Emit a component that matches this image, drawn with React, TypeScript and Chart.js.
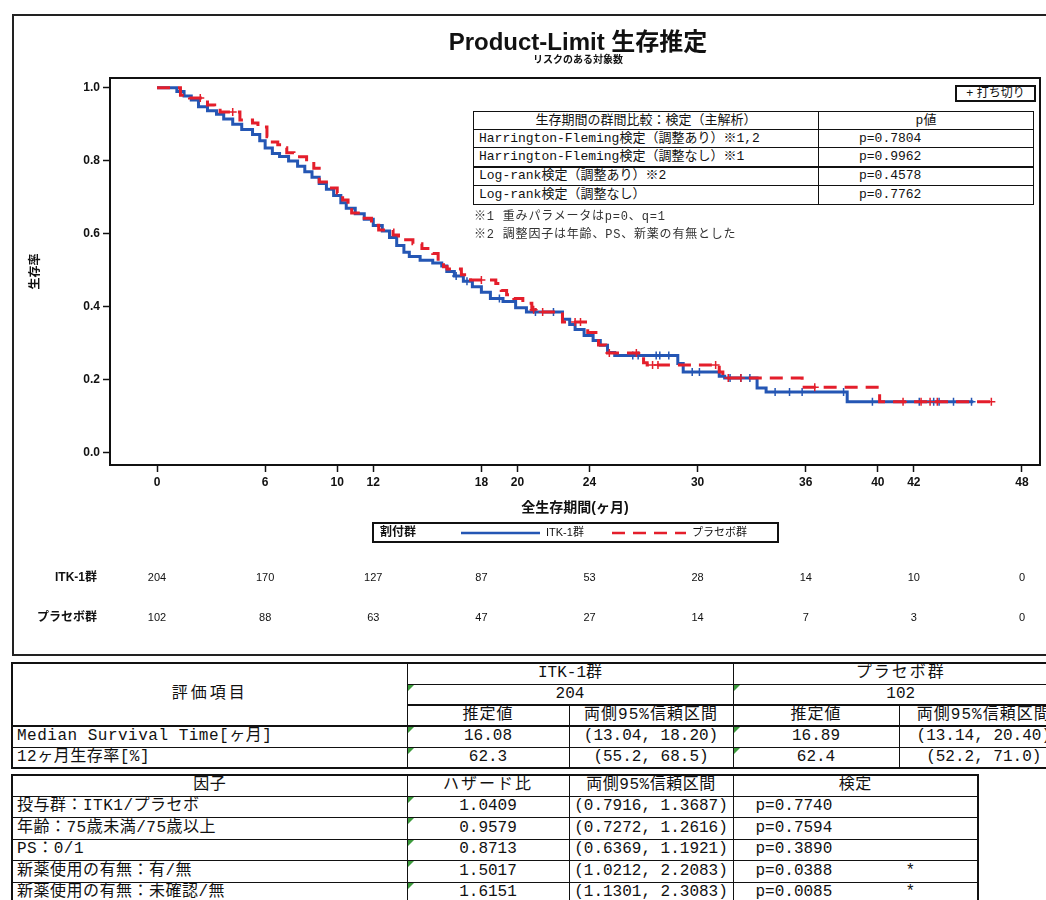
import React, { useEffect, useRef } from "react";
import { Chart, registerables } from "chart.js";

Chart.register(...registerables);

// ---------- text ----------
const TITLE = "Product-Limit 生存推定";
const SUBTITLE = "リスクのある対象数";
const Y_TITLE = "生存率";
const X_TITLE = "全生存期間(ヶ月)";
const LEGEND_TITLE = "割付群";
const GROUPS = ["ITK-1群", "プラセボ群"];
const CENSOR_KEY = "+ 打ち切り";

// ---------- axes ----------
const X_MIN = -2.61;
const X_MAX = 49.0;
const Y_MIN = -0.033;
const Y_MAX = 1.027;
const X_TICKS = [0, 6, 10, 12, 18, 20, 24, 30, 36, 40, 42, 48];
const Y_TICKS = [0, 0.2, 0.4, 0.6, 0.8, 1.0];

// ---------- Kaplan-Meier data (time in months, survival after each step) ----------
const ITK_TIMES = [0, 1.1, 1.5, 1.9, 2.3, 2.8, 3.3, 3.7, 4.2, 4.7, 5.3, 5.7, 6.0, 6.4, 6.8, 7.3, 7.8, 8.2, 8.6, 9.0, 9.4, 9.8, 10.2, 10.5, 11.0, 11.5, 12.0, 12.5, 12.9, 13.3, 13.7, 14.0, 14.6, 15.3, 15.8, 16.08, 16.5, 17.0, 17.5, 18.0, 18.5, 19.2, 19.9, 20.5, 22.5, 22.9, 23.2, 23.7, 24.2, 24.6, 25.0, 25.4, 28.9, 29.2, 31.2, 31.5, 33.3, 33.8, 38.3];
const ITK_SURV = [1.0, 0.99, 0.978, 0.967, 0.948, 0.937, 0.928, 0.915, 0.9, 0.886, 0.872, 0.855, 0.835, 0.82, 0.812, 0.8, 0.785, 0.77, 0.755, 0.738, 0.722, 0.705, 0.685, 0.67, 0.655, 0.64, 0.623, 0.608, 0.59, 0.568, 0.55, 0.538, 0.528, 0.52, 0.512, 0.497, 0.485, 0.47, 0.455, 0.44, 0.423, 0.415, 0.398, 0.386, 0.366, 0.352, 0.338, 0.322, 0.308, 0.295, 0.275, 0.267, 0.245, 0.222, 0.21, 0.205, 0.178, 0.167, 0.14];
const ITK_END = 45.3;
const ITK_CENSOR = [16.6, 17.2, 19.0, 21.0, 22.0, 26.4, 26.7, 27.7, 27.9, 28.4, 29.7, 30.1, 31.8, 32.4, 32.9, 34.3, 35.1, 35.8, 38.1, 39.7, 42.3, 43.1, 43.4, 44.2, 45.2];

const PBO_TIMES = [0, 1.3, 1.8, 2.8, 3.2, 3.5, 4.6, 5.3, 5.6, 6.1, 6.4, 6.7, 7.0, 7.2, 7.6, 8.3, 8.7, 9.0, 9.4, 10.0, 10.3, 10.6, 10.8, 11.3, 11.9, 12.3, 13.1, 13.4, 14.2, 14.7, 15.3, 15.6, 15.9, 16.1, 16.89, 17.4, 18.8, 19.1, 19.4, 19.8, 20.3, 20.8, 21.0, 22.5, 23.9, 24.5, 24.9, 27.0, 27.2, 31.2, 31.4, 35.8, 40.1];
const PBO_SURV = [1.0, 0.98, 0.972, 0.953, 0.947, 0.934, 0.912, 0.904, 0.893, 0.866, 0.852, 0.844, 0.836, 0.822, 0.811, 0.797, 0.78, 0.742, 0.726, 0.712, 0.693, 0.676, 0.657, 0.643, 0.624, 0.611, 0.597, 0.584, 0.573, 0.56, 0.546, 0.525, 0.51, 0.504, 0.488, 0.474, 0.464, 0.445, 0.433, 0.423, 0.41, 0.392, 0.386, 0.359, 0.33, 0.296, 0.274, 0.247, 0.241, 0.222, 0.205, 0.18, 0.14];
const PBO_END = 46.4;
const PBO_CENSOR = [2.4, 4.2, 18.0, 20.9, 21.4, 23.2, 23.5, 25.1, 26.6, 27.5, 27.8, 31.0, 31.7, 32.4, 36.5, 41.4, 42.4, 42.9, 43.3, 46.3];

// ---------- numbers at risk ----------
const RISK_TIMES = [0, 6, 12, 18, 24, 30, 36, 42, 48];
const RISK_ITK = [204, 170, 127, 87, 53, 28, 14, 10, 0];
const RISK_PBO = [102, 88, 63, 47, 27, 14, 7, 3, 0];

// ---------- in-plot test table ----------
const TEST_HEAD = ["生存期間の群間比較：検定（主解析）", "p値"];
const TEST_NAMES = ["Harrington-Fleming検定（調整あり）※1,2", "Harrington-Fleming検定（調整なし）※1", "Log-rank検定（調整あり）※2", "Log-rank検定（調整なし）"];
const TEST_P = ["p=0.7804", "p=0.9962", "p=0.4578", "p=0.7762"];
const NOTES = ["※1 重みパラメータはp=0、q=1", "※2 調整因子は年齢、PS、新薬の有無とした"];

// ---------- lower tables ----------
const SUMMARY_HEAD = "評価項目";
const GROUP_N = ["204", "102"];
const SUB_HEAD = ["推定値", "両側95%信頼区間"];
const SUMMARY_ROWS = [
  ["Median Survival Time[ヶ月]", "16.08", "(13.04, 18.20)", "16.89", "(13.14, 20.40)"],
  ["12ヶ月生存率[%]", "62.3", "(55.2, 68.5)", "62.4", "(52.2, 71.0)"],
];
const HR_HEAD = ["因子", "ハザード比", "両側95%信頼区間", "検定"];
const HR_ROWS = [
  ["投与群：ITK1/プラセボ", "1.0409", "(0.7916, 1.3687)", "p=0.7740", ""],
  ["年齢：75歳未満/75歳以上", "0.9579", "(0.7272, 1.2616)", "p=0.7594", ""],
  ["PS：0/1", "0.8713", "(0.6369, 1.1921)", "p=0.3890", ""],
  ["新薬使用の有無：有/無", "1.5017", "(1.0212, 2.2083)", "p=0.0388", "*"],
  ["新薬使用の有無：未確認/無", "1.6151", "(1.1301, 2.3083)", "p=0.0085", "*"],
];

// ---------- styles ----------
const ITK_COLOR = "#2456b4";
const PBO_COLOR = "#e41e2b";
const FONT = '"Liberation Sans", "Noto Sans CJK JP", sans-serif';
const TFONT = '"Liberation Mono", "Noto Sans CJK JP", monospace';
const INK = "#111";

function survAt(times: number[], surv: number[], t: number) {
  let s = surv[0];
  for (let i = 0; i < times.length; i++) if (times[i] <= t) s = surv[i];
  return s;
}
function stepPoints(times: number[], surv: number[], end: number) {
  const pts = times.map((t, i) => ({ x: t, y: surv[i] }));
  pts.push({ x: end, y: surv[surv.length - 1] });
  return pts;
}
function censorPoints(times: number[], surv: number[], cens: number[]) {
  return cens.map((t) => ({ x: t, y: survAt(times, surv, t) }));
}

const decorPlugin = {
  id: "kmDecor",
  afterDraw(chart: any) {
    const { ctx, chartArea } = chart;
    const xs = chart.scales.x;
    const cx = (chartArea.left + chartArea.right) / 2;
    ctx.save();
    // plot frame
    ctx.strokeStyle = INK;
    ctx.lineWidth = 2;
    ctx.setLineDash([]);
    ctx.strokeRect(chartArea.left, chartArea.top, chartArea.right - chartArea.left, chartArea.bottom - chartArea.top);
    // titles
    ctx.fillStyle = INK;
    ctx.textAlign = "center";
    ctx.textBaseline = "middle";
    ctx.font = `bold 24px ${FONT}`;
    ctx.fillText(TITLE, cx + 3, 29);
    ctx.font = `bold 10px ${FONT}`;
    ctx.fillText(SUBTITLE, cx + 3, 46);
    // legend
    const lw = 405, lh = 19;
    const lx = cx - 202, ly = 509;
    const my = ly + lh / 2 + 0.5;
    ctx.lineWidth = 2;
    ctx.strokeStyle = INK;
    ctx.strokeRect(lx, ly, lw, lh);
    ctx.textAlign = "left";
    ctx.font = `bold 12px ${FONT}`;
    ctx.fillText(LEGEND_TITLE, lx + 7, my);
    ctx.lineWidth = 2.5;
    ctx.strokeStyle = ITK_COLOR;
    ctx.beginPath();
    ctx.moveTo(lx + 88, my);
    ctx.lineTo(lx + 167, my);
    ctx.stroke();
    ctx.font = `11px ${FONT}`;
    ctx.fillText(GROUPS[0], lx + 173, my);
    ctx.strokeStyle = PBO_COLOR;
    ctx.setLineDash([13, 8]);
    ctx.beginPath();
    ctx.moveTo(lx + 239, my);
    ctx.lineTo(lx + 313, my);
    ctx.stroke();
    ctx.setLineDash([]);
    ctx.fillText(GROUPS[1], lx + 319, my);
    // numbers at risk
    const r1 = 564, r2 = 604;
    ctx.textAlign = "right";
    ctx.font = `bold 12px ${FONT}`;
    ctx.fillText(GROUPS[0], 85, r1);
    ctx.fillText(GROUPS[1], 85, r2);
    ctx.textAlign = "center";
    ctx.font = `11px ${FONT}`;
    RISK_TIMES.forEach((t, i) => {
      const x = xs.getPixelForValue(t);
      ctx.fillText(String(RISK_ITK[i]), x, r1);
      ctx.fillText(String(RISK_PBO[i]), x, r2);
    });
    ctx.restore();
  },
};

const cell: React.CSSProperties = {
  border: "1px solid #111",
  padding: "0 4px",
  lineHeight: "19px",
  whiteSpace: "nowrap",
  overflow: "hidden",
  position: "relative",
  verticalAlign: "middle",
};

function Tri() {
  return (
    <span
      style={{
        position: "absolute",
        left: 0,
        top: 0,
        width: 0,
        height: 0,
        borderTop: "6px solid #3d9b3d",
        borderRight: "6px solid transparent",
      }}
    />
  );
}

export default function App() {
  const canvasRef = useRef<HTMLCanvasElement>(null);

  useEffect(() => {
    const chart = new Chart(canvasRef.current as HTMLCanvasElement, {
      type: "line",
      data: {
        datasets: [
          {
            label: GROUPS[1],
            data: stepPoints(PBO_TIMES, PBO_SURV, PBO_END),
            borderColor: PBO_COLOR,
            borderWidth: 3,
            borderDash: [13, 8],
            stepped: "before",
            pointRadius: 0,
            fill: false,
          },
          {
            label: GROUPS[1] + " censored",
            data: censorPoints(PBO_TIMES, PBO_SURV, PBO_CENSOR),
            showLine: false,
            pointStyle: "cross",
            pointRadius: 4,
            pointBorderWidth: 1.5,
            pointBorderColor: PBO_COLOR,
            borderColor: PBO_COLOR,
          },
          {
            label: GROUPS[0],
            data: stepPoints(ITK_TIMES, ITK_SURV, ITK_END),
            borderColor: ITK_COLOR,
            borderWidth: 3,
            stepped: "before",
            pointRadius: 0,
            fill: false,
          },
          {
            label: GROUPS[0] + " censored",
            data: censorPoints(ITK_TIMES, ITK_SURV, ITK_CENSOR),
            showLine: false,
            pointStyle: "cross",
            pointRadius: 4,
            pointBorderWidth: 1.5,
            pointBorderColor: ITK_COLOR,
            borderColor: ITK_COLOR,
          },
        ] as any,
      },
      options: {
        responsive: false,
        animation: false,
        devicePixelRatio: 1,
        events: [],
        layout: { padding: { top: 64, left: 0, right: 6, bottom: 130 } },
        plugins: {
          legend: { display: false },
          tooltip: { enabled: false },
          title: { display: false },
        },
        scales: {
          x: {
            type: "linear",
            min: X_MIN,
            max: X_MAX,
            afterBuildTicks: (s: any) => {
              s.ticks = X_TICKS.map((v) => ({ value: v }));
            },
            afterFit: (s: any) => {
              s.height = 60;
            },
            ticks: {
              autoSkip: false,
              maxRotation: 0,
              padding: 3,
              color: INK,
              font: { family: FONT, size: 12, weight: "bold" },
              callback: (v: any) => String(v),
            },
            grid: { drawOnChartArea: false, drawTicks: true, tickLength: 7, tickWidth: 1.5, tickColor: INK },
            border: { display: false },
            title: {
              display: true,
              text: X_TITLE,
              color: INK,
              font: { family: FONT, size: 14, weight: "bold" },
              padding: { top: 0, bottom: 8.6 },
            },
          },
          y: {
            type: "linear",
            min: Y_MIN,
            max: Y_MAX,
            afterBuildTicks: (s: any) => {
              s.ticks = Y_TICKS.map((v) => ({ value: v }));
            },
            afterFit: (s: any) => {
              s.width = 98;
            },
            ticks: {
              padding: 3,
              color: INK,
              font: { family: FONT, size: 12, weight: "bold" },
              callback: (v: any) => Number(v).toFixed(1),
            },
            grid: { drawOnChartArea: false, drawTicks: true, tickLength: 7, tickWidth: 1.5, tickColor: INK },
            border: { display: false },
            title: {
              display: true,
              text: Y_TITLE,
              color: INK,
              font: { family: FONT, size: 12, weight: "bold" },
              padding: { top: 16, bottom: 0 },
            },
          },
        },
      } as any,
      plugins: [decorPlugin],
    });
    return () => chart.destroy();
  }, []);

  const pCell: React.CSSProperties = {
    border: "1px solid #111",
    padding: 0,
    lineHeight: "16px",
    whiteSpace: "nowrap",
    overflow: "hidden",
  };
  const pRowH = [18, 18, 19, 19, 19];

  return (
    <div
      style={{
        position: "absolute",
        left: 0,
        top: 0,
        width: 1046,
        height: 900,
        overflow: "hidden",
        background: "#fff",
        color: INK,
      }}
    >
      <div
        style={{
          position: "absolute",
          left: 12,
          top: 14,
          width: 1050,
          height: 642,
          border: "2px solid #222",
          boxSizing: "border-box",
        }}
      />
      <canvas
        ref={canvasRef}
        width={1034}
        height={641}
        style={{ position: "absolute", left: 12, top: 14, width: 1034, height: 641 }}
      />

      {/* censor key */}
      <div
        style={{
          position: "absolute",
          left: 955,
          top: 85,
          width: 81,
          height: 17,
          border: "2px solid #111",
          boxSizing: "border-box",
          font: `12px ${FONT}`,
          lineHeight: "13px",
          textAlign: "center",
          background: "#fff",
        }}
      >
        {CENSOR_KEY}
      </div>

      {/* test table */}
      <table
        style={{
          position: "absolute",
          left: 473,
          top: 111,
          width: 560,
          borderCollapse: "collapse",
          tableLayout: "fixed",
          border: "1.5px solid #111",
          fontFamily: TFONT,
          fontSize: 13,
          color: INK,
          background: "#fff",
        }}
      >
        <colgroup>
          <col style={{ width: 345 }} />
          <col style={{ width: 215 }} />
        </colgroup>
        <tbody>
          <tr style={{ height: pRowH[0] }}>
            <td style={{ ...pCell, textAlign: "center" }}>{TEST_HEAD[0]}</td>
            <td style={{ ...pCell, textAlign: "center" }}>{TEST_HEAD[1]}</td>
          </tr>
          {TEST_NAMES.map((n, i) => (
            <tr key={n} style={{ height: pRowH[i + 1] }}>
              <td style={{ ...pCell, paddingLeft: 5, borderTop: i === 2 ? "2px solid #111" : pCell.border }}>{n}</td>
              <td style={{ ...pCell, paddingLeft: 40, borderTop: i === 2 ? "2px solid #111" : pCell.border }}>{TEST_P[i]}</td>
            </tr>
          ))}
        </tbody>
      </table>
      {NOTES.map((n, i) => (
        <div
          key={n}
          style={{
            position: "absolute",
            left: 474,
            top: 209 + i * 18,
            fontFamily: TFONT,
            fontSize: 12,
            lineHeight: "16px",
            letterSpacing: 0.8,
            color: "#333",
            whiteSpace: "nowrap",
          }}
        >
          {n}
        </div>
      ))}

      {/* summary table */}
      <table
        style={{
          position: "absolute",
          left: 11,
          top: 662,
          width: 1057,
          borderCollapse: "collapse",
          tableLayout: "fixed",
          border: "2px solid #111",
          fontFamily: TFONT,
          fontSize: 16,
          color: INK,
        }}
      >
        <colgroup>
          {[395, 162, 164, 166, 170].map((w, i) => (
            <col key={i} style={{ width: w }} />
          ))}
        </colgroup>
        <tbody>
          <tr style={{ height: 21 }}>
            <td rowSpan={3} style={{ ...cell, textAlign: "center", letterSpacing: 3, borderBottom: "2px solid #111" }}>
              {SUMMARY_HEAD}
            </td>
            <td colSpan={2} style={{ ...cell, textAlign: "center" }}>{GROUPS[0]}</td>
            <td colSpan={2} style={{ ...cell, textAlign: "center", letterSpacing: 2 }}>{GROUPS[1]}</td>
          </tr>
          <tr style={{ height: 21 }}>
            <td colSpan={2} style={{ ...cell, textAlign: "center", borderBottom: "2px solid #111" }}>
              <Tri />
              {GROUP_N[0]}
            </td>
            <td colSpan={2} style={{ ...cell, textAlign: "center", borderBottom: "2px solid #111" }}>
              <Tri />
              {GROUP_N[1]}
            </td>
          </tr>
          <tr style={{ height: 21 }}>
            {[0, 1, 0, 1].map((k, i) => (
              <td key={i} style={{ ...cell, textAlign: "center", letterSpacing: 1, borderBottom: "2px solid #111" }}>
                {SUB_HEAD[k]}
              </td>
            ))}
          </tr>
          {SUMMARY_ROWS.map((r) => (
            <tr key={r[0]} style={{ height: 21 }}>
              <td style={{ ...cell, letterSpacing: 0.5 }}>{r[0]}</td>
              {r.slice(1).map((v, i) => (
                <td key={i} style={{ ...cell, textAlign: "center" }}>
                  {i % 2 === 0 ? <Tri /> : null}
                  {v}
                </td>
              ))}
            </tr>
          ))}
        </tbody>
      </table>

      {/* hazard ratio table */}
      <table
        style={{
          position: "absolute",
          left: 11,
          top: 774,
          width: 966,
          borderCollapse: "collapse",
          tableLayout: "fixed",
          border: "2px solid #111",
          fontFamily: TFONT,
          fontSize: 16,
          color: INK,
        }}
      >
        <colgroup>
          {[395, 162, 164, 245].map((w, i) => (
            <col key={i} style={{ width: w }} />
          ))}
        </colgroup>
        <tbody>
          <tr style={{ height: 21 }}>
            {HR_HEAD.map((h, i) => (
              <td key={h} style={{ ...cell, textAlign: "center", letterSpacing: i === 1 ? 2 : 0.5 }}>{h}</td>
            ))}
          </tr>
          {HR_ROWS.map((r) => (
            <tr key={r[0]} style={{ height: 21.5 }}>
              <td style={{ ...cell, letterSpacing: 0.5 }}>{r[0]}</td>
              <td style={{ ...cell, textAlign: "center" }}>
                <Tri />
                {r[1]}
              </td>
              <td style={{ ...cell, textAlign: "center" }}>{r[2]}</td>
              <td style={{ ...cell, paddingLeft: 22 }}>
                <span style={{ display: "inline-block", width: 150 }}>{r[3]}</span>
                {r[4]}
              </td>
            </tr>
          ))}
        </tbody>
      </table>
    </div>
  );
}
